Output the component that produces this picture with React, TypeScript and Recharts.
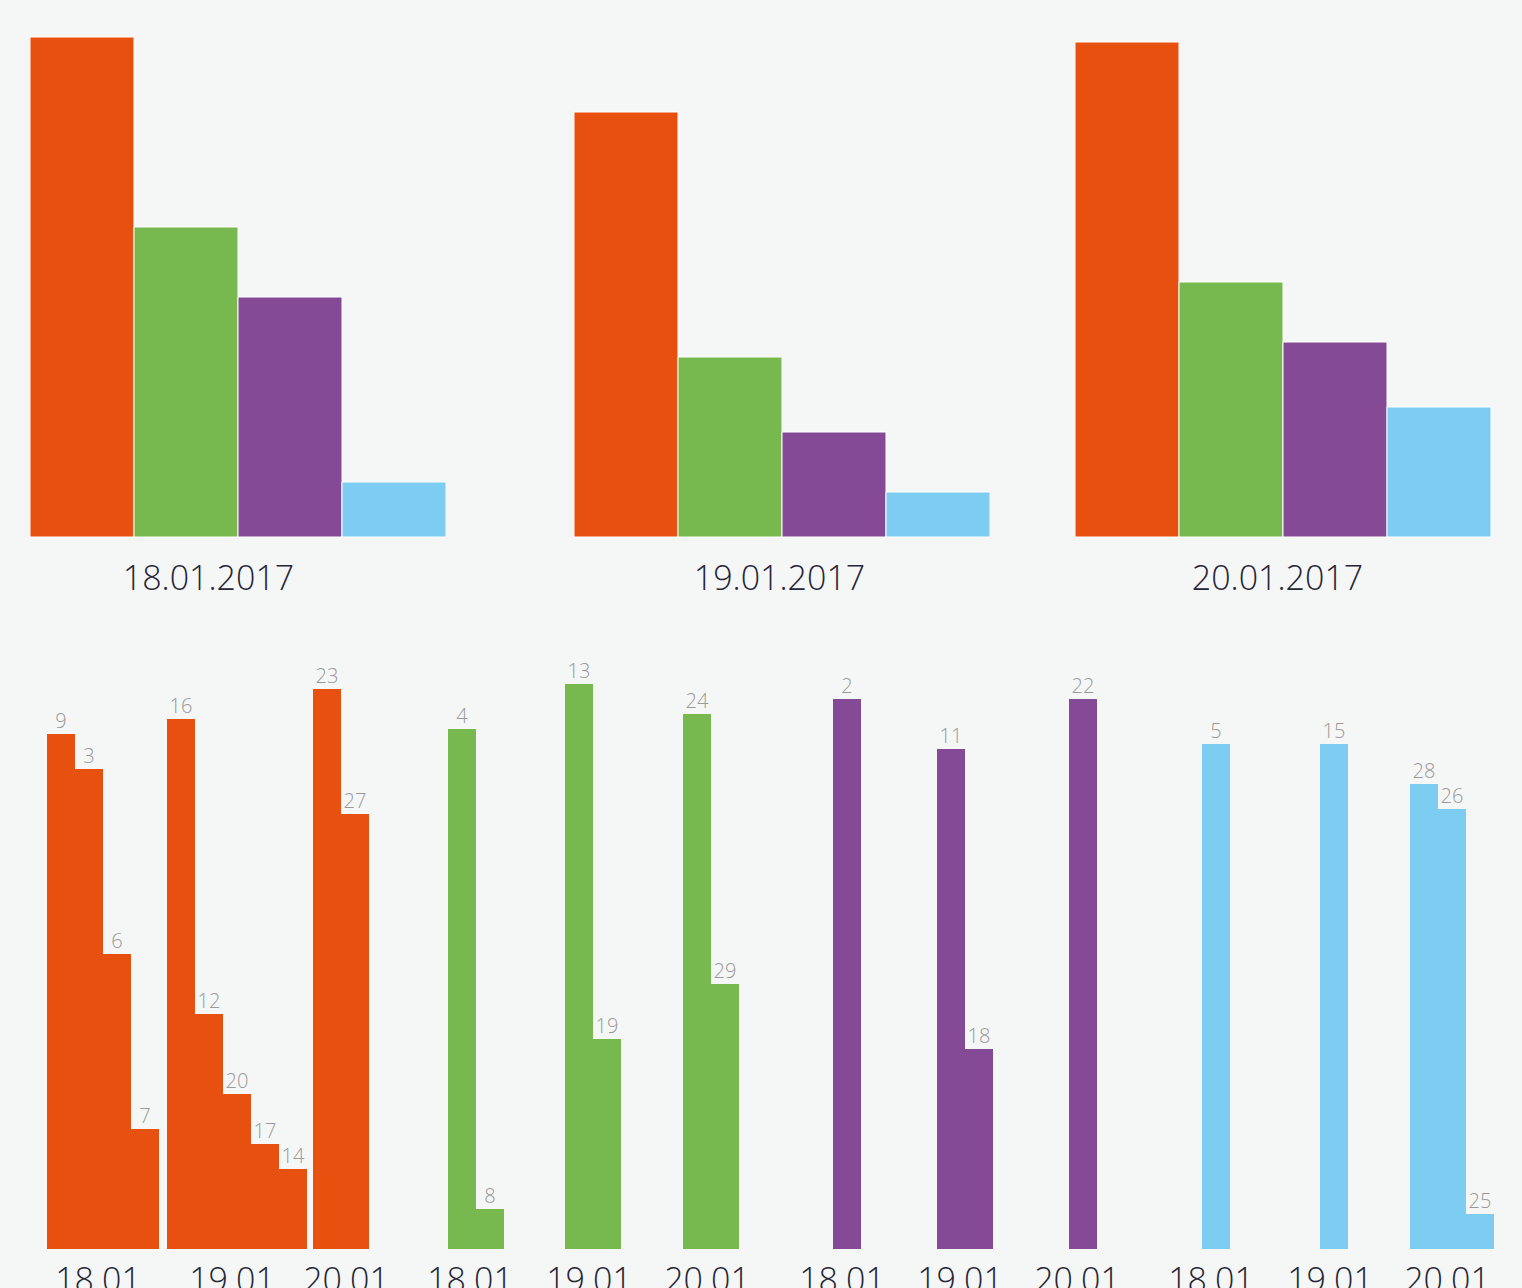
import React from "react";
import { Bar, BarChart, LabelList, XAxis, YAxis } from "recharts";

// top chart: totals per day
const topDates = ["18.01.2017", "19.01.2017", "20.01.2017"];
const orangeTotals = [100, 85, 99];
const greenTotals = [62, 36, 51];
const purpleTotals = [48, 21, 39];
const blueTotals = [11, 9, 26];

// bottom chart: items per day, per series
const subDates = ["18.01", "19.01", "20.01"];
const orangeIds = [[9, 3, 6, 7], [16, 12, 20, 17, 14], [23, 27]];
const orangeValues = [[103, 96, 59, 24], [106, 47, 31, 21, 16], [112, 87]];
const greenIds = [[4, 8], [13, 19], [24, 29]];
const greenValues = [[104, 8], [113, 42], [107, 53]];
const purpleIds = [[2], [11, 18], [22]];
const purpleValues = [[110], [100, 40], [110]];
const blueIds = [[5], [15], [28, 26, 25]];
const blueValues = [[101], [101], [93, 88, 7]];

const COLORS = { orange: "#e8500f", green: "#78b94f", purple: "#844a96", blue: "#7dccf1" };
const FONT = "'Open Sans', sans-serif";

// layout
const topLefts = [30, 574, 1075];
const topLabelCenters = [208.5, 779.5, 1277.5];
const TOP_W = 416;
const TOP_PLOT_H = 537;
const TOP_AXIS_H = 90;

const subLefts = [
  [47, 167, 313],
  [448, 565, 683],
  [833, 937, 1069],
  [1202, 1320, 1410],
];
const subLabelCenters = [
  [98, 232, 346],
  [470, 589, 707],
  [842, 960, 1077],
  [1211, 1330, 1447],
];
const BAR_W = 28;
const SUB_PLOT_H = 600;
const SUB_BASE = 1249;

const bottomSeries = [
  { color: COLORS.orange, ids: orangeIds, values: orangeValues },
  { color: COLORS.green, ids: greenIds, values: greenValues },
  { color: COLORS.purple, ids: purpleIds, values: purpleValues },
  { color: COLORS.blue, ids: blueIds, values: blueValues },
];

export default function App() {
  const topData = topDates.map((date, i) => ({
    date,
    orange: orangeTotals[i],
    green: greenTotals[i],
    purple: purpleTotals[i],
    blue: blueTotals[i],
  }));

  return (
    <div
      style={{
        position: "absolute",
        left: 0,
        top: 0,
        width: 1522,
        height: 1288,
        overflow: "hidden",
        background: "#f5f7f6",
        fontFamily: FONT,
      }}
    >
      {topData.map((row, i) => (
        <div key={row.date} style={{ position: "absolute", left: topLefts[i], top: 0 }}>
          <BarChart
            width={TOP_W}
            height={TOP_PLOT_H + TOP_AXIS_H}
            data={[row]}
            margin={{ top: 0, right: 0, left: 0, bottom: 0 }}
            barCategoryGap={0}
            barGap={0}
          >
            <XAxis
              dataKey="date"
              axisLine={false}
              tickLine={false}
              tickSize={0}
              tickMargin={29}
              height={TOP_AXIS_H}
              interval={0}
              tick={{
                fontSize: 34,
                fontWeight: 300,
                fill: "#262636",
                fontFamily: FONT,
                dx: topLabelCenters[i] - (topLefts[i] + TOP_W / 2),
              }}
            />
            <YAxis hide domain={[0, TOP_PLOT_H / 5]} />
            <Bar dataKey="orange" fill={COLORS.orange} stroke="#fff" strokeWidth={1} isAnimationActive={false} />
            <Bar dataKey="green" fill={COLORS.green} stroke="#fff" strokeWidth={1} isAnimationActive={false} />
            <Bar dataKey="purple" fill={COLORS.purple} stroke="#fff" strokeWidth={1} isAnimationActive={false} />
            <Bar dataKey="blue" fill={COLORS.blue} stroke="#fff" strokeWidth={1} isAnimationActive={false} />
          </BarChart>
        </div>
      ))}

      {bottomSeries.map((s, si) =>
        subDates.map((d, di) => {
          const data = s.values[di].map((v, k) => ({ id: s.ids[di][k], value: v }));
          return (
            <React.Fragment key={`${si}-${d}`}>
              <div style={{ position: "absolute", left: subLefts[si][di], top: SUB_BASE - SUB_PLOT_H }}>
                <BarChart
                  width={BAR_W * data.length}
                  height={SUB_PLOT_H}
                  data={data}
                  margin={{ top: 0, right: 0, left: 0, bottom: 0 }}
                  barCategoryGap={0}
                  style={{ overflow: "visible" }}
                >
                  <XAxis dataKey="id" hide />
                  <YAxis hide domain={[0, SUB_PLOT_H / 5]} />
                  <Bar dataKey="value" fill={s.color} isAnimationActive={false}>
                    <LabelList
                      dataKey="id"
                      position="top"
                      offset={6}
                      fill="#999999"
                      fontSize={20}
                      fontWeight={300}
                      fontFamily={FONT}
                    />
                  </Bar>
                </BarChart>
              </div>
              <div
                style={{
                  position: "absolute",
                  left: subLabelCenters[si][di] - 100,
                  width: 200,
                  top: 1262,
                  textAlign: "center",
                  fontSize: 34,
                  lineHeight: 1,
                  fontWeight: 300,
                  color: "#262636",
                }}
              >
                {d}
              </div>
            </React.Fragment>
          );
        })
      )}
    </div>
  );
}
